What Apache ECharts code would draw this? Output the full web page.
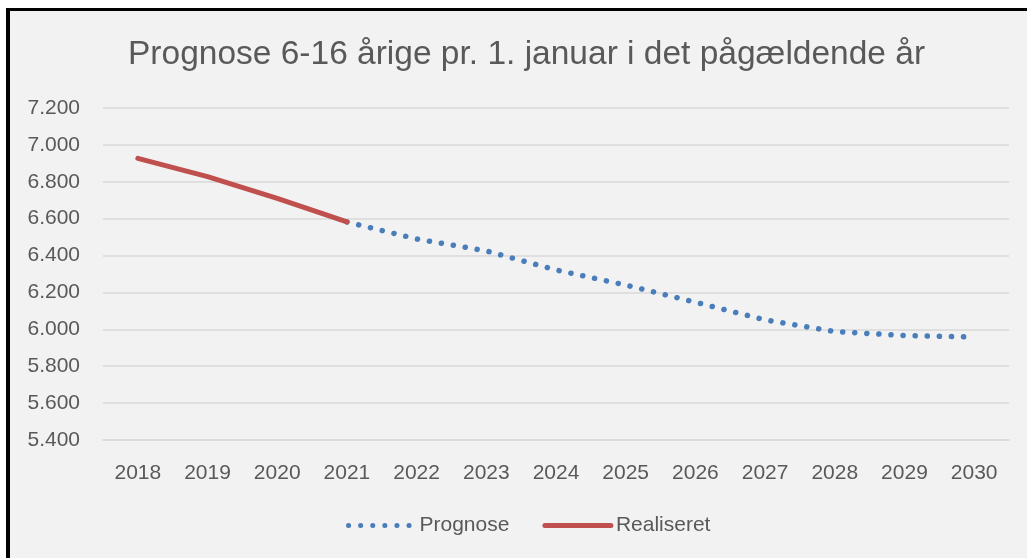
<!DOCTYPE html>
<html>
<head>
<meta charset="utf-8">
<script src="https://cdn.jsdelivr.net/npm/echarts@6/dist/echarts.min.js"></script>
<style>
    html, body { margin: 0; padding: 0; background: #ffffff; }
    #frame {
        position: absolute; left: 6px; top: 8px; width: 1030px; height: 560px;
        background: #f2f2f2; border-left: 4px solid #000; border-top: 3px solid #000;
    }
    #chart { position: absolute; left: 0; top: 0; width: 1027px; height: 558px; }
</style>
</head>
<body>
<div id="frame"></div>
<div id="chart"></div>
<script>
// 年份（x轴）
const years = ['2018', '2019', '2020', '2021', '2022', '2023', '2024', '2025', '2026', '2027', '2028', '2029', '2030'];

// 实际值 2018-2021
const realiseret = [6927, 6828, 6710, 6582, null, null, null, null, null, null, null, null, null];

// 预测值 2021-2030
const prognose = [null, null, null, 6582, 6490, 6425, 6322, 6240, 6147, 6051, 5988, 5966, 5958];

const fontFamily = '"Liberation Sans", Arial, sans-serif';
const textColor = '#595959';

const chart = echarts.init(document.getElementById('chart'));

const option = {
    backgroundColor: 'transparent',
    animation: false,
    title: {
        text: 'Prognose 6-16 årige pr. 1. januar i det pågældende år',
        left: 123,
        top: 33,
        textStyle: {
            fontFamily: fontFamily,
            fontSize: 33.5,
            fontWeight: 'normal',
            color: textColor
        }
    },
    legend: {
        left: 341,
        top: 510,
        itemWidth: 66,
        itemHeight: 14,
        itemGap: 33,
        itemStyle: { opacity: 0 },
        lineStyle: { width: 5, cap: 'round' },
        textStyle: {
            fontFamily: fontFamily,
            fontSize: 21,
            color: textColor
        },
        data: ['Prognose', 'Realiseret']
    },
    grid: {
        left: 103,
        right: 18,
        top: 108,
        bottom: 118
    },
    xAxis: {
        type: 'category',
        data: years,
        boundaryGap: true,
        axisLine: { show: true, lineStyle: { color: '#d9d9d9', width: 1.5 } },
        axisTick: { show: false },
        axisLabel: {
            margin: 23,
            fontFamily: fontFamily,
            fontSize: 21,
            color: textColor
        }
    },
    yAxis: {
        type: 'value',
        min: 5400,
        max: 7200,
        interval: 200,
        axisLine: { show: false },
        axisTick: { show: false },
        splitLine: { lineStyle: { color: '#d9d9d9', width: 1.5 } },
        axisLabel: {
            margin: 23,
            fontFamily: fontFamily,
            fontSize: 21,
            color: textColor,
            formatter: function (v) {
                return (v / 1000).toFixed(3);
            }
        }
    },
    series: [
        {
            name: 'Prognose',
            type: 'line',
            data: prognose,
            symbol: 'none',
            itemStyle: { color: '#4a7ebb' },
            lineStyle: {
                color: '#4a7ebb',
                width: 5.5,
                type: [0.1, 12],
                cap: 'round'
            },
            z: 2
        },
        {
            name: 'Realiseret',
            type: 'line',
            data: realiseret,
            symbol: 'none',
            itemStyle: { color: '#c0504d' },
            lineStyle: {
                color: '#c0504d',
                width: 5,
                cap: 'round'
            },
            z: 3
        }
    ]
};

chart.setOption(option);
</script>
</body>
</html>
